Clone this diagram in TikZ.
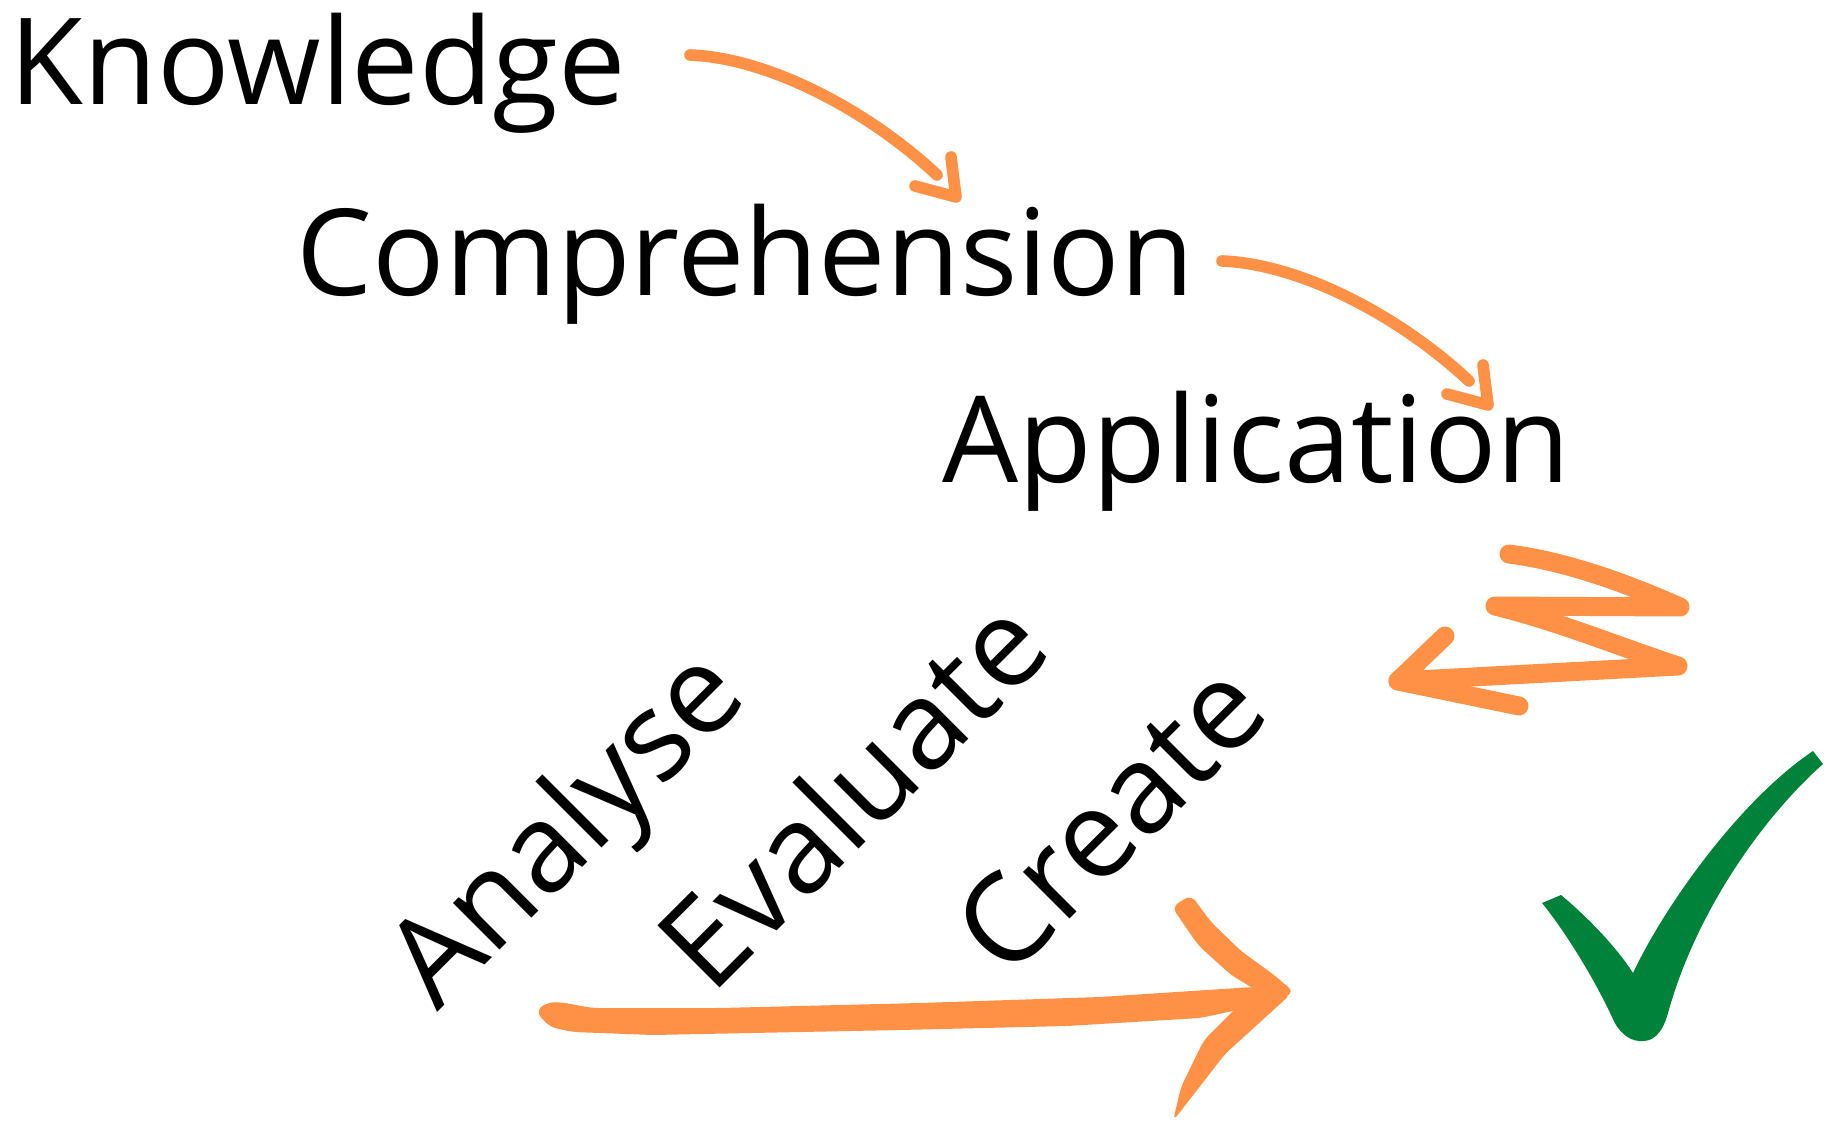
\documentclass[tikz,border=0pt]{standalone}
\usepackage{fontspec}
\setmainfont{Open Sans}
\usepackage{tikz}
\definecolor{brush}{RGB}{255,145,71}
\definecolor{tick}{RGB}{0,130,58}

\begin{document}
\begin{tikzpicture}
        [x=0.01cm, y=-0.01cm,
        word/.style={anchor=base west, inner sep=0pt, font=\fontsize{34.2}{40}\selectfont},
        slant/.style={word, rotate=45, font=\fontsize{35}{40}\selectfont},
        arr/.style={draw=brush, line width=3.3pt, line cap=round, line join=round},
        zig/.style={draw=brush, line width=5.4pt, line cap=round, line join=round},
        blot/.style={fill=brush, rounded corners=2pt}]
        \useasboundingbox (0,0) rectangle (1834,1122);
        \node (knowledge) at (9,105) [word] {Knowledge};
        \node (comprehension) at (296,296) [word] {Comprehension};
        \node (application) at (942,483) [word] {Application};
        \node (analyse) at (437,1013) [slant] {Analyse};
        \node (evaluate) at (711,997) [slant] {Evaluate};
        \node (create) at (1007,982) [slant] {Create};

        \coordinate (kc-start) at (690,55);
        \coordinate (kc-end) at (937,175);
        \coordinate (kc-tip) at (956,197);
        \coordinate (ca-start) at (1222,261);
        \coordinate (ca-end) at (1469,381);
        \coordinate (ca-tip) at (1488,405);
        \draw[arr] (kc-start) .. controls +(80,3) and +(-67,-63) .. (kc-end);
        \draw[arr] (kc-tip) ++(-5,-40) -- (kc-tip) -- ++(-41,-11);
        \draw[arr] (ca-start) .. controls +(80,3) and +(-67,-63) .. (ca-end);
        \draw[arr] (ca-tip) ++(-5,-40) -- (ca-tip) -- ++(-41,-11);

        \coordinate (z1) at (1509,554);
        \coordinate (z2) at (1680,607);
        \coordinate (z3) at (1495,606);
        \coordinate (z4) at (1678,666);
        \coordinate (z5) at (1398,681);
        \draw[zig] (z1) .. controls (1570,562) and (1630,585) .. (z2)
           -- (z3) .. controls (1560,622) and (1620,647) .. (z4) -- (z5);
        \draw[zig] (1445,636) -- (z5) -- (1519,706);

        \fill[blot] (536,1012) -- (545,1003) -- (560,1002) -- (592,1008) -- (720,1008)
           -- (920,1003) -- (1100,997) -- (1253,987) -- (1290,992) -- (1285,999)
           -- (1233,1011) -- (1200,1018) -- (1067,1026) -- (900,1030) -- (653,1035)
           -- (573,1032) -- (550,1027) -- cycle;
        \fill[blot] (1172,907) -- (1191,895) -- (1211,922) -- (1241,951) -- (1274,975)
           -- (1294,992) -- (1280,999) -- (1256,990) -- (1231,975) -- (1198,945) -- cycle;
        \fill[blot] (1291,994) -- (1225,1054) -- (1173,1121) -- (1181,1087)
           -- (1204,1040) -- (1238,1006) -- (1262,997) -- cycle;

        \fill[tick] (1542,903) -- (1561,895) .. controls (1585,915) and (1615,945) .. (1633,973)
           .. controls (1665,905) and (1740,800) .. (1813,751) -- (1823,764)
           .. controls (1760,820) and (1695,915) .. (1668,1013)
           .. controls (1662,1035) and (1652,1042) .. (1640,1041)
           .. controls (1628,1041) and (1617,1030) .. (1612,1017)
           .. controls (1590,970) and (1560,925) .. cycle;
\end{tikzpicture}
\end{document}
